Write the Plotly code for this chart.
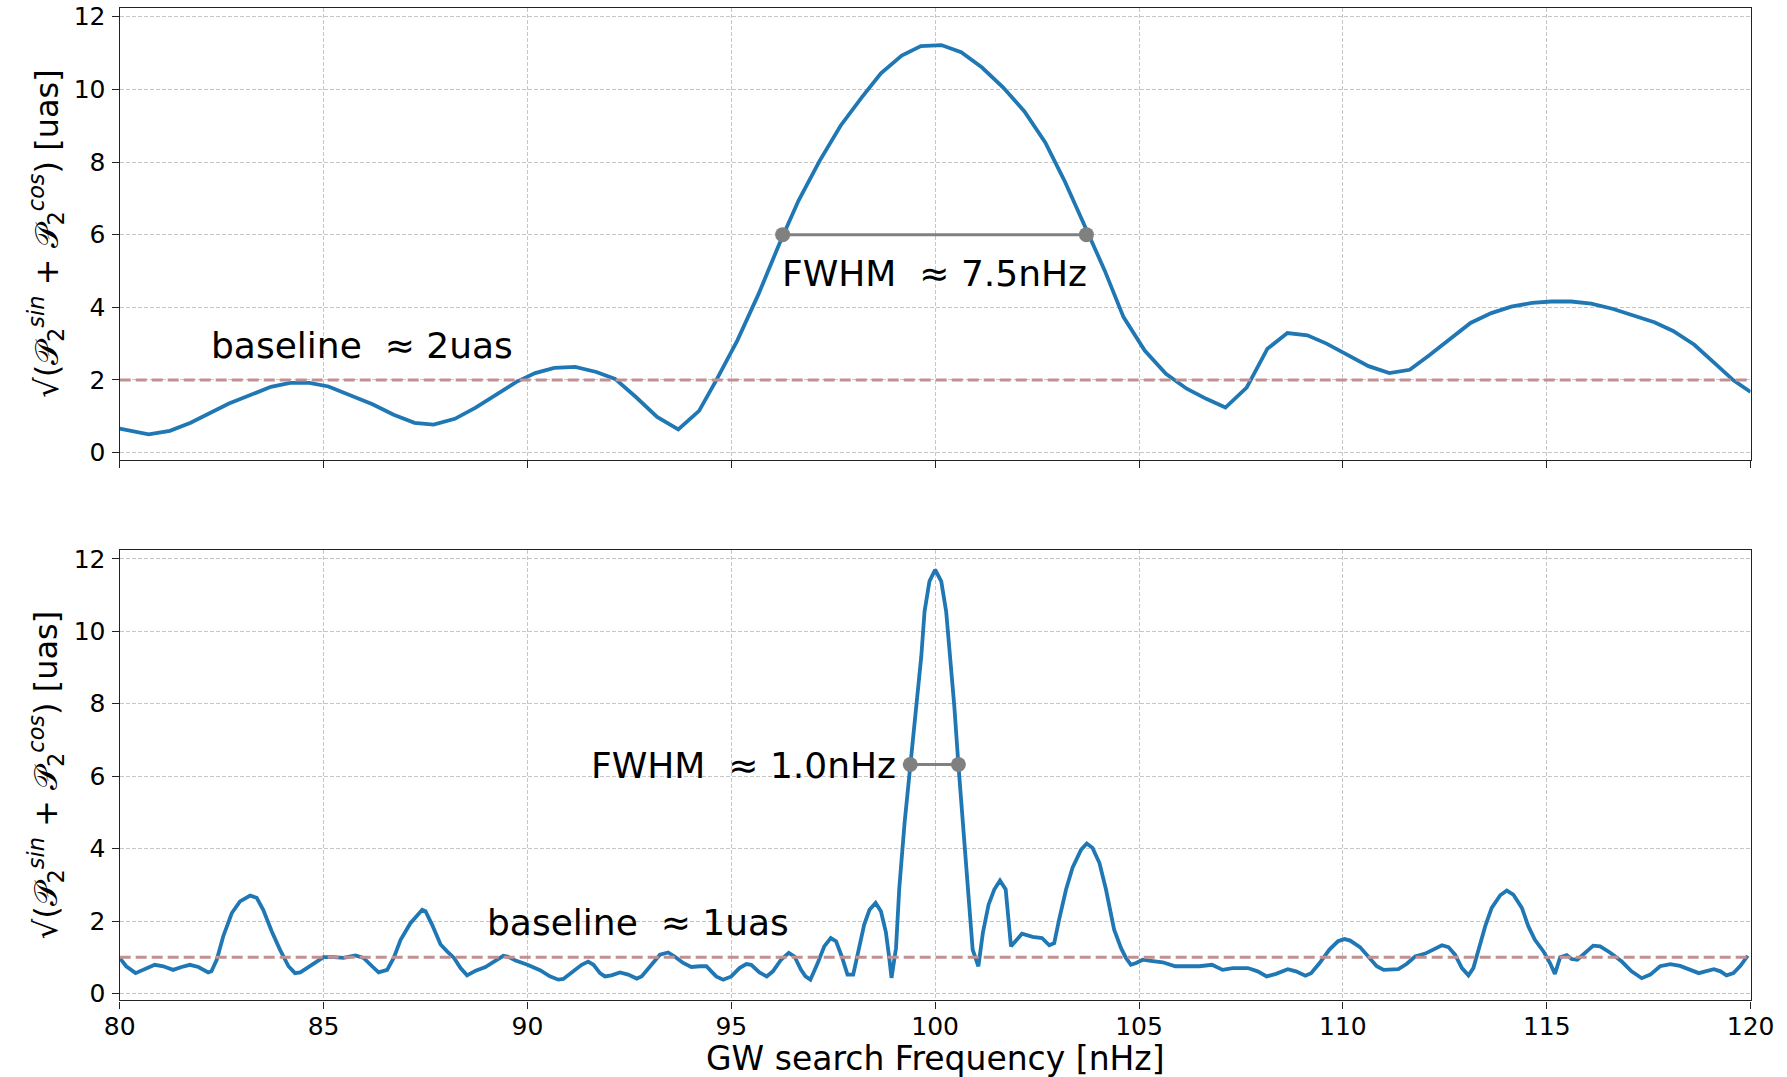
import plotly.graph_objects as go

# ---------------- data ----------------
freq_top = [80.0, 80.71, 81.23, 81.74, 82.68, 83.25, 83.71, 84.18, 84.65, 85.12, 85.68, 86.20,
            86.72, 87.23, 87.70, 88.22, 88.73, 89.25, 89.72, 90.19, 90.66, 91.17, 91.69, 92.15,
            92.66, 93.18, 93.70, 94.21, 94.63, 95.15, 95.67, 96.18, 96.65, 97.17, 97.68, 98.20,
            98.67, 99.18, 99.65, 100.15, 100.64, 101.15, 101.67, 102.19, 102.70, 103.17, 103.64,
            104.16, 104.62, 105.14, 105.66, 106.17, 106.65, 107.12, 107.64, 108.15, 108.64,
            109.13, 109.60, 110.11, 110.63, 111.14, 111.64, 112.12, 112.64, 113.13, 113.64,
            114.13, 114.64, 115.11, 115.60, 116.09, 116.61, 117.12, 117.64, 118.10, 118.62,
            119.09, 119.58, 120.0]
amp_top = [0.66, 0.50, 0.60, 0.82, 1.35, 1.62, 1.81, 1.92, 1.92, 1.82, 1.58, 1.33,
           1.04, 0.82, 0.77, 0.93, 1.24, 1.62, 1.94, 2.19, 2.33, 2.36, 2.22, 2.03,
           1.53, 0.98, 0.64, 1.15, 1.99, 3.09, 4.37, 5.75, 6.94, 8.04, 9.00, 9.78,
           10.44, 10.93, 11.19, 11.22, 11.02, 10.60, 10.05, 9.39, 8.54, 7.49, 6.34,
           5.01, 3.73, 2.81, 2.17, 1.76, 1.48, 1.24, 1.79, 2.86, 3.29,
           3.23, 3.00, 2.69, 2.38, 2.19, 2.28, 2.68, 3.15, 3.57, 3.84,
           4.02, 4.12, 4.16, 4.16, 4.10, 3.96, 3.79, 3.59, 3.35, 2.97,
           2.49, 1.99, 1.67]

freq_bot = [80.0, 80.16, 80.39, 80.61, 80.86, 81.07, 81.31, 81.52, 81.72, 81.93, 82.17, 82.25,
            82.38, 82.54, 82.75, 82.95, 83.2, 83.36, 83.52, 83.73, 83.93, 84.14, 84.30, 84.43,
            84.67, 85.0, 85.25, 85.49, 85.78, 85.98, 86.19, 86.35, 86.56, 86.72, 86.89, 87.13,
            87.42, 87.5, 87.66, 87.87, 88.03, 88.20, 88.36, 88.52, 88.73, 88.97, 89.18, 89.41,
            89.51, 89.71, 90.0, 90.31, 90.55, 90.76, 90.88, 91.13, 91.33, 91.49, 91.62, 91.78,
            91.90, 92.06, 92.27, 92.47, 92.68, 92.80, 93.0, 93.25, 93.45, 93.61, 93.82, 94.02,
            94.23, 94.39, 94.51, 94.63, 94.80, 95.0, 95.20, 95.37, 95.49, 95.69, 95.87, 96.02,
            96.22, 96.41, 96.55, 96.71, 96.82, 96.94, 97.12, 97.28, 97.44, 97.57, 97.71, 97.85,
            97.99, 98.10, 98.26, 98.39, 98.54, 98.67, 98.79, 98.87, 98.93, 99.04, 99.12, 99.25,
            99.39, 99.53, 99.66, 99.74, 99.86, 100.0, 100.15, 100.27, 100.37, 100.47, 100.57,
            100.68, 100.80, 100.92, 101.06, 101.17, 101.31, 101.45, 101.59, 101.73, 101.86,
            102.13, 102.39, 102.62, 102.80, 102.92, 103.04, 103.21, 103.37, 103.58, 103.72,
            103.86, 104.03, 104.19, 104.39, 104.56, 104.68, 104.80, 104.93, 105.09, 105.29,
            105.58, 105.89, 106.15, 106.48, 106.79, 107.05, 107.30, 107.67, 107.91, 108.13,
            108.36, 108.65, 108.85, 109.08, 109.22, 109.43, 109.67, 109.88, 110.04, 110.18,
            110.42, 110.63, 110.83, 111.0, 111.36, 111.57, 111.77, 112.02, 112.22, 112.43,
            112.59, 112.75, 112.92, 113.08, 113.20, 113.33, 113.49, 113.65, 113.86, 114.02,
            114.18, 114.39, 114.55, 114.71, 114.92, 115.08, 115.20, 115.33, 115.49, 115.61,
            115.75, 115.94, 116.14, 116.31, 116.55, 116.84, 117.08, 117.33, 117.54, 117.78,
            118.03, 118.27, 118.52, 118.73, 118.89, 119.10, 119.26, 119.41, 119.58, 119.75,
            119.93]
amp_bot = [0.98, 0.75, 0.56, 0.67, 0.79, 0.75, 0.65, 0.73, 0.79, 0.73, 0.58, 0.61,
           0.93, 1.58, 2.22, 2.54, 2.70, 2.64, 2.31, 1.71, 1.21, 0.75, 0.56, 0.58,
           0.76, 1.00, 1.00, 0.98, 1.05, 0.98, 0.75, 0.58, 0.65, 0.98, 1.48, 1.94,
           2.31, 2.27, 1.90, 1.35, 1.16, 0.98, 0.70, 0.50, 0.63, 0.73, 0.88, 1.04,
           1.02, 0.91, 0.79, 0.64, 0.47, 0.38, 0.40, 0.61, 0.79, 0.88, 0.79, 0.56,
           0.47, 0.50, 0.58, 0.52, 0.41, 0.47, 0.75, 1.07, 1.13, 1.02, 0.84, 0.73,
           0.75, 0.75, 0.61, 0.47, 0.38, 0.47, 0.70, 0.81, 0.79, 0.58, 0.47, 0.61,
           0.93, 1.12, 1.02, 0.65, 0.47, 0.38, 0.84, 1.30, 1.53, 1.44, 1.02, 0.52,
           0.52, 1.12, 1.90, 2.31, 2.50, 2.27, 1.70, 1.02, 0.43, 1.25, 2.90, 4.71,
           6.32, 7.93, 9.31, 10.55, 11.38, 11.70, 11.38, 10.55, 9.31, 7.93, 6.32,
           4.71, 3.05, 1.21, 0.75, 1.67, 2.45, 2.87, 3.12, 2.87, 1.30,
           1.65, 1.56, 1.53, 1.33, 1.39, 2.04, 2.87, 3.47, 3.97, 4.14,
           4.02, 3.60, 2.87, 1.76, 1.25, 0.98, 0.79, 0.84, 0.93, 0.90,
           0.86, 0.75, 0.76, 0.75, 0.79, 0.65, 0.70, 0.70, 0.61, 0.47,
           0.54, 0.67, 0.61, 0.49, 0.56, 0.84, 1.21, 1.44, 1.50, 1.46,
           1.28, 1.02, 0.75, 0.65, 0.67, 0.82, 1.02, 1.10, 1.21, 1.33,
           1.28, 1.07, 0.70, 0.50, 0.70, 1.21, 1.85, 2.36, 2.71, 2.84,
           2.73, 2.36, 1.85, 1.48, 1.16, 0.84, 0.54, 1.00, 1.06, 0.95,
           0.93, 1.12, 1.32, 1.30, 1.13, 0.88, 0.61, 0.42, 0.52, 0.75,
           0.81, 0.76, 0.65, 0.56, 0.61, 0.67, 0.61, 0.50, 0.56, 0.76,
           1.04]

baseline_top = 2.0
baseline_bot = 1.0
fwhm_top_x = [96.26, 103.71]
fwhm_top_y = [6.0, 6.0]
fwhm_bot_x = [99.39, 100.57]
fwhm_bot_y = [6.32, 6.32]
x_range = [80, 120]
x_ticks = [80, 85, 90, 95, 100, 105, 110, 115, 120]
y_ticks = [0, 2, 4, 6, 8, 10, 12]

label_top_baseline = "baseline\u00a0\u00a0\u2248\u00a02uas"
label_top_fwhm = "FWHM\u00a0\u00a0\u2248\u00a07.5nHz"
label_bot_baseline = "baseline\u00a0\u00a0\u2248\u00a01uas"
label_bot_fwhm = "FWHM\u00a0\u00a0\u2248\u00a01.0nHz"
y_title = "\u221a(\U0001D4AB<sub>2</sub><sup><i>sin</i></sup> + \U0001D4AB<sub>2</sub><sup><i>cos</i></sup>)\u00a0[uas]"
x_title = "GW search Frequency [nHz]"

# ---------------- layout geometry ----------------
W, H = 1787, 1077
L_PX, R_PX = 119.7, 1750.6
TOP_PX = (8.0, 459.5)
BOT_PX = (550.2, 1000.3)
Y_RANGE = [-0.19, 12.24]

BLUE = "#1f77b4"
BASE_COL = "#c09190"
GREY = "#808080"
FONT = "DejaVu Sans"

def ydom(px):
    return [1 - px[1] / H, 1 - px[0] / H]

fig = go.Figure()

# main curves
fig.add_trace(go.Scatter(x=freq_top, y=amp_top, mode="lines",
                         line=dict(color=BLUE, width=3.8), xaxis="x", yaxis="y"))
fig.add_trace(go.Scatter(x=freq_bot, y=amp_bot, mode="lines",
                         line=dict(color=BLUE, width=3.8), xaxis="x2", yaxis="y2"))

# baselines
fig.add_trace(go.Scatter(x=x_range, y=[baseline_top, baseline_top], mode="lines",
                         line=dict(color=BASE_COL, width=3, dash="11px,5px"), xaxis="x", yaxis="y"))
fig.add_trace(go.Scatter(x=x_range, y=[baseline_bot, baseline_bot], mode="lines",
                         line=dict(color=BASE_COL, width=3, dash="11px,5px"), xaxis="x2", yaxis="y2"))

# FWHM markers
fig.add_trace(go.Scatter(x=fwhm_top_x, y=fwhm_top_y, mode="lines+markers",
                         line=dict(color=GREY, width=3), marker=dict(color=GREY, size=15),
                         xaxis="x", yaxis="y"))
fig.add_trace(go.Scatter(x=fwhm_bot_x, y=fwhm_bot_y, mode="lines+markers",
                         line=dict(color=GREY, width=3), marker=dict(color=GREY, size=15),
                         xaxis="x2", yaxis="y2"))

axis_common = dict(
    showline=True, linecolor="#222222", linewidth=1.4, mirror=True,
    ticks="outside", ticklen=7, tickwidth=1.4, tickcolor="#222222",
    showgrid=True, gridcolor="#c6c6c6", gridwidth=1, griddash="4px,2px",
    zeroline=False, automargin=False,
    tickfont=dict(family=FONT, size=25, color="black"),
)

fig.update_layout(
    width=W, height=H,
    margin=dict(l=0, r=0, t=0, b=0),
    paper_bgcolor="white", plot_bgcolor="white",
    showlegend=False,
    font=dict(family=FONT, color="black"),
    xaxis=dict(domain=[L_PX / W, R_PX / W], range=x_range, anchor="y",
               tickvals=x_ticks, showticklabels=False, **axis_common),
    yaxis=dict(domain=ydom(TOP_PX), range=Y_RANGE, anchor="x",
               tickvals=y_ticks, ticklabelstandoff=1, **axis_common),
    xaxis2=dict(domain=[L_PX / W, R_PX / W], range=x_range, anchor="y2",
                tickvals=x_ticks, ticklabelstandoff=-4, **axis_common),
    yaxis2=dict(domain=ydom(BOT_PX), range=Y_RANGE, anchor="x2",
                tickvals=y_ticks, ticklabelstandoff=1, **axis_common),
)

ann_font = dict(family=FONT, size=36, color="black")
annotations = [
    dict(x=82.2, y=2.95, xref="x", yref="y", text=label_top_baseline, showarrow=False,
         xanchor="left", yanchor="middle", font=ann_font),
    dict(x=96.2, y=4.92, xref="x", yref="y", text=label_top_fwhm, showarrow=False,
         xanchor="left", yanchor="middle", font=ann_font),
    dict(x=88.95, y=1.95, xref="x2", yref="y2", text=label_bot_baseline, showarrow=False,
         xanchor="left", yanchor="middle", font=ann_font),
    dict(x=99.1, y=6.3, xref="x2", yref="y2", text=label_bot_fwhm, showarrow=False,
         xanchor="right", yanchor="middle", font=ann_font),
    # axis titles
    dict(x=46 / W, y=1 - (TOP_PX[0] + TOP_PX[1]) / 2 / H, xref="paper", yref="paper",
         text=y_title, showarrow=False, textangle=-90, xanchor="center", yanchor="middle",
         font=dict(family=FONT, size=32, color="black")),
    dict(x=46 / W, y=1 - (BOT_PX[0] + BOT_PX[1]) / 2 / H, xref="paper", yref="paper",
         text=y_title, showarrow=False, textangle=-90, xanchor="center", yanchor="middle",
         font=dict(family=FONT, size=32, color="black")),
    dict(x=(L_PX + R_PX) / 2 / W, y=1 - 1058 / H, xref="paper", yref="paper",
         text=x_title, showarrow=False, xanchor="center", yanchor="middle",
         font=dict(family=FONT, size=33, color="black")),
]
fig.update_layout(annotations=annotations)

fig.write_html("out.html")
